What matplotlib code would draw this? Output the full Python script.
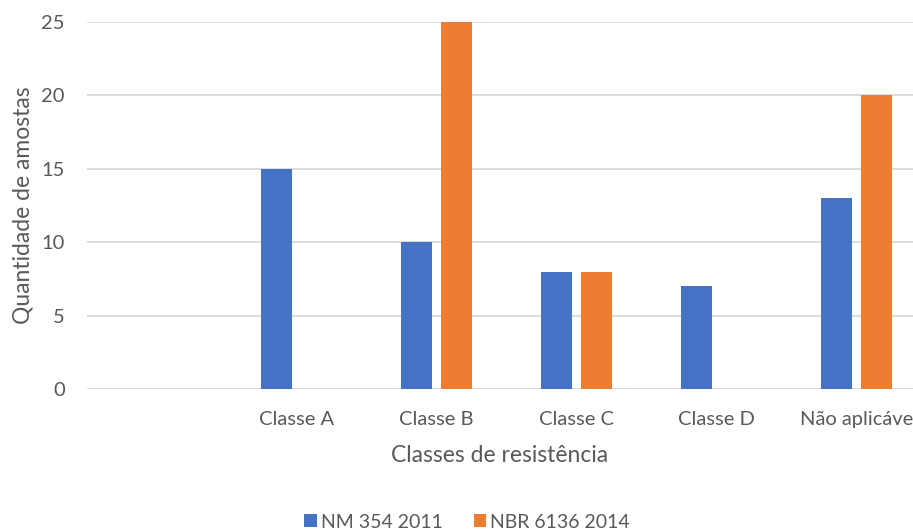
import matplotlib.pyplot as plt
import numpy as np

# dados: quantidade de amostras por classe de resistência
categorias = ["", "Classe A", "Classe B", "Classe C", "Classe D", "Não aplicáve"]
nm_354_2011 = [0, 15, 10, 8, 7, 13]
nbr_6136_2014 = [0, 0, 25, 8, 0, 20]

plt.rcParams['font.family'] = ['Lato', 'DejaVu Sans']
cor_texto = '#595959'

fig = plt.figure(figsize=(9.13, 5.29), dpi=100)
ax = fig.add_axes([86.5 / 913, 1 - 389 / 529, 1 - 86.5 / 913, (389 - 22) / 529])

x = np.arange(len(categorias))
largura = 31 / 140
desloc = 20 / 140
ax.bar(x - desloc, nm_354_2011, largura, color='#4472C4', label='NM 354 2011', zorder=3)
ax.bar(x + desloc, nbr_6136_2014, largura, color='#ED7D31', label='NBR 6136 2014', zorder=3)

ax.set_xlim(-0.5, -0.5 + (913 - 86.5) / 140)
ax.set_ylim(0, 25)
ax.set_yticks([0, 5, 10, 15, 20, 25])
ax.set_xticks(x)
ax.set_xticklabels(categorias)

ax.yaxis.grid(True, color='#d9d9d9', linewidth=1.3, zorder=0)
for s in ax.spines.values():
    s.set_visible(False)
ax.tick_params(axis='both', length=0, labelsize=14.5, colors=cor_texto)
ax.tick_params(axis='y', pad=15.5)
ax.tick_params(axis='x', pad=16)

ax.set_xlabel('Classes de resistência', fontsize=16.5, color=cor_texto, labelpad=12)
ax.set_ylabel('Quantidade de amostas', fontsize=16.5, color=cor_texto, labelpad=6)

leg = ax.legend(loc='center', bbox_to_anchor=(467 / 913, 1 - 522 / 529),
                bbox_transform=fig.transFigure, ncol=2, frameon=False,
                fontsize=14, handlelength=0.65, handleheight=0.65,
                handletextpad=0.2, columnspacing=1.6)
for t in leg.get_texts():
    t.set_color(cor_texto)

fig.savefig('out.png', dpi=100)
